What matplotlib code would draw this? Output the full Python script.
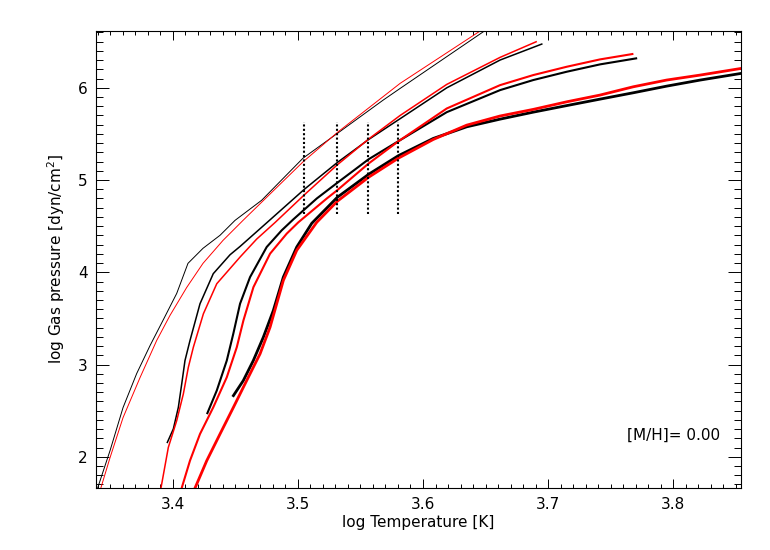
import matplotlib
matplotlib.use("Agg")
import matplotlib.pyplot as plt
from matplotlib.ticker import MultipleLocator

# ---- data (log T, log Pgas) ----
t1_black = [3.3385, 3.3499, 3.3603, 3.3712, 3.3819, 3.3922, 3.4032, 3.4122, 3.4242, 3.4378, 3.4498, 3.4711, 3.5041, 3.5321, 3.5681, 3.5817, 3.6503]
p1_black = [1.60, 2.066, 2.533, 2.902, 3.206, 3.478, 3.771, 4.097, 4.260, 4.401, 4.563, 4.781, 5.237, 5.511, 5.866, 5.993, 6.627]
t1_red = [3.3412, 3.3499, 3.3603, 3.3739, 3.3872, 3.3978, 3.4112, 3.4242, 3.4402, 3.4562, 3.5041, 3.5321, 3.5817, 3.6469]
p1_red = [1.60, 1.990, 2.424, 2.859, 3.261, 3.532, 3.836, 4.097, 4.346, 4.563, 5.197, 5.522, 6.048, 6.627]

t2_black = [3.3957, 3.4005, 3.4045, 3.4072, 3.4098, 3.4138, 3.4218, 3.4324, 3.4458, 3.4538, 3.4754, 3.5052, 3.5315, 3.5566, 3.5817, 3.6190, 3.6616, 3.6949]
p2_black = [2.156, 2.302, 2.536, 2.790, 3.043, 3.260, 3.659, 3.985, 4.190, 4.280, 4.540, 4.900, 5.190, 5.440, 5.665, 6.000, 6.301, 6.474]
t2_red = [3.3898, 3.3965, 3.4032, 3.4085, 3.4125, 3.4165, 3.4245, 3.4352, 3.4538, 3.4671, 3.4818, 3.5052, 3.5315, 3.5566, 3.5817, 3.6190, 3.6616, 3.6904]
p2_red = [1.60, 2.102, 2.392, 2.682, 2.971, 3.188, 3.550, 3.876, 4.165, 4.360, 4.540, 4.840, 5.165, 5.445, 5.700, 6.037, 6.330, 6.499]

t3_black = [3.4277, 3.4352, 3.4432, 3.4484, 3.4538, 3.4618, 3.4751, 3.4871, 3.4964, 3.5151, 3.5315, 3.5566, 3.5803, 3.6190, 3.6616, 3.6881, 3.7148, 3.7415, 3.7703]
p3_black = [2.473, 2.718, 3.043, 3.333, 3.659, 3.948, 4.274, 4.455, 4.574, 4.800, 4.970, 5.226, 5.421, 5.736, 5.975, 6.084, 6.174, 6.254, 6.319]
t3_red = [3.4058, 3.4138, 3.4218, 3.4324, 3.4432, 3.4512, 3.4565, 3.4645, 3.4778, 3.4911, 3.5004, 3.5231, 3.5315, 3.5566, 3.5803, 3.6190, 3.6616, 3.6881, 3.7148, 3.7415, 3.7673]
p3_red = [1.60, 1.958, 2.247, 2.536, 2.862, 3.188, 3.478, 3.839, 4.202, 4.419, 4.542, 4.800, 4.890, 5.180, 5.420, 5.776, 6.029, 6.138, 6.228, 6.308, 6.366]

t4_black = [3.4485, 3.4564, 3.4644, 3.4724, 3.4804, 3.4884, 3.4991, 3.5111, 3.5315, 3.5566, 3.5803, 3.6082, 3.6349, 3.6615, 3.6881, 3.7148, 3.7414, 3.7680, 3.7947, 3.8215, 3.8542]
p4_black = [2.663, 2.826, 3.043, 3.296, 3.586, 3.948, 4.274, 4.531, 4.813, 5.063, 5.264, 5.451, 5.577, 5.660, 5.736, 5.807, 5.877, 5.946, 6.018, 6.084, 6.156]
t4_red = [3.4159, 3.4272, 3.4378, 3.4485, 3.4591, 3.4698, 3.4778, 3.4831, 3.4884, 3.4991, 3.5151, 3.5315, 3.5566, 3.5803, 3.6082, 3.6349, 3.6615, 3.6881, 3.7148, 3.7414, 3.7680, 3.7947, 3.8215, 3.8542]
p4_red = [1.60, 1.958, 2.247, 2.536, 2.826, 3.116, 3.405, 3.659, 3.912, 4.238, 4.542, 4.770, 5.031, 5.237, 5.440, 5.595, 5.694, 5.766, 5.848, 5.921, 6.011, 6.084, 6.138, 6.210]

teff_marks = [3.505, 3.531, 3.556, 3.580]
mark_range = [4.63, 5.63]

xticks = [3.4, 3.5, 3.6, 3.7, 3.8]
yticks = [2, 3, 4, 5, 6]

plt.rcParams['font.family'] = ['DejaVu Sans']

fig = plt.figure(figsize=(7.7, 5.5), dpi=100)
ax = fig.add_axes([96/770, 1-487.5/550, 645/770, 456.8/550])

series = [
    (t1_black, p1_black, 'black', 0.7),
    (t1_red, p1_red, 'red', 0.7),
    (t2_black, p2_black, 'black', 1.1),
    (t2_red, p2_red, 'red', 1.1),
    (t3_black, p3_black, 'black', 1.5),
    (t3_red, p3_red, 'red', 1.5),
    (t4_black, p4_black, 'black', 2.0),
    (t4_red, p4_red, 'red', 2.0),
]
for t, p, c, lw in series:
    ax.plot(t, p, color=c, lw=lw, solid_joinstyle='round')

for xm in teff_marks:
    ax.plot([xm, xm], mark_range, color='black', lw=1.5,
            linestyle=(0, (1, 1.1)), dash_capstyle='butt')

ax.set_xlim(3.3387, 3.8541)
ax.set_ylim(1.667, 6.619)

ax.set_xticks(xticks)
ax.set_yticks(yticks)
ax.set_xticklabels([f"{v:.1f}" for v in xticks])
ax.set_yticklabels([str(v) for v in yticks])
ax.xaxis.set_minor_locator(MultipleLocator(0.01))
ax.yaxis.set_minor_locator(MultipleLocator(0.1))
ax.tick_params(axis='x', which='major', direction='in', length=6.5, width=0.7,
               top=True, labelsize=11, pad=7)
ax.tick_params(axis='x', which='minor', direction='in', length=3.2, width=0.7, top=True)
ax.tick_params(axis='y', which='major', direction='in', length=9.4, width=0.7,
               right=True, labelsize=11, pad=6)
ax.tick_params(axis='y', which='minor', direction='in', length=4.7, width=0.7, right=True)
for s in ax.spines.values():
    s.set_linewidth(0.8)

ax.set_xlabel("log Temperature [K]", fontsize=11, labelpad=2)
ax.set_ylabel("log Gas pressure [dyn/cm$^2$]", fontsize=11, labelpad=8)

ax.text(3.8373, 2.229, "[M/H]= 0.00", ha='right', va='center', fontsize=11)

fig.savefig("out.png", dpi=100)
